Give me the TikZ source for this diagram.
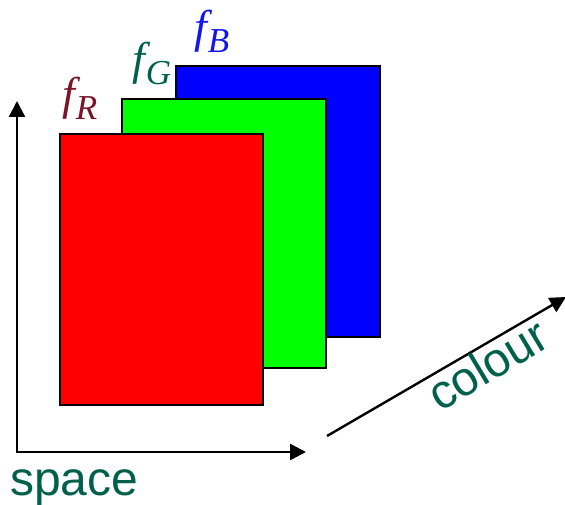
\documentclass[tikz,border=0pt]{standalone}
\usepackage{fontspec}
\setsansfont{Liberation Sans}
\newfontfamily\lserif{Liberation Serif}
\usetikzlibrary{arrows.meta}
\definecolor{dkgreen}{HTML}{00604C}
\definecolor{dkred}{HTML}{7A1428}
\definecolor{fblue}{HTML}{1414F0}
\newcommand{\flab}[1]{{\lserif\itshape\fontsize{46}{50}\selectfont f\kern1pt\raisebox{-10pt}{\fontsize{35}{38}\selectfont #1}}}
\tikzset{
  plane/.style={draw=black, line width=2pt, anchor=north west, inner sep=0pt, outer sep=0pt},
  axis/.style={line width=2.4pt, -{Triangle[length=16pt,width=16pt]}},
  axlabel/.style={font=\sffamily\fontsize{48}{52}\selectfont, text=dkgreen, inner sep=0pt},
  flabel/.style={inner sep=0pt, anchor=base west}
}
\begin{document}
\begin{tikzpicture}[x=1pt,y=-1pt]
\useasboundingbox (0,0) rectangle (565,505);
\node[plane, fill=blue, minimum width=204pt, minimum height=271pt] (B) at (176,66) {};
\node[plane, fill=green, minimum width=204pt, minimum height=269pt] (G) at (122,99) {};
\node[plane, fill=red, minimum width=203pt, minimum height=271pt] (R) at (60,134) {};
\node[flabel, text=dkred] (fR) at (62,110) {\flab{R}};
\node[flabel, text=dkgreen] (fG) at (132,75) {\flab{G}};
\node[flabel, text=fblue] (fB) at (194,43) {\flab{B}};
\coordinate (O) at (17,452);
\coordinate (Ytip) at (17,101);
\coordinate (Xtip) at (306,452);
\coordinate (Cstart) at (327,436);
\coordinate (Ctip) at (566,297);
\draw[axis] (O) -- (Ytip);
\draw[axis] ([xshift=-1.2pt]O) -- (Xtip);
\draw[axis] (Cstart) -- (Ctip);
\node[axlabel, anchor=base west] (space) at (10,495) {space};
\node[axlabel, anchor=base west, rotate=31] (colour) at (440,413) {colour};
\end{tikzpicture}
\end{document}
